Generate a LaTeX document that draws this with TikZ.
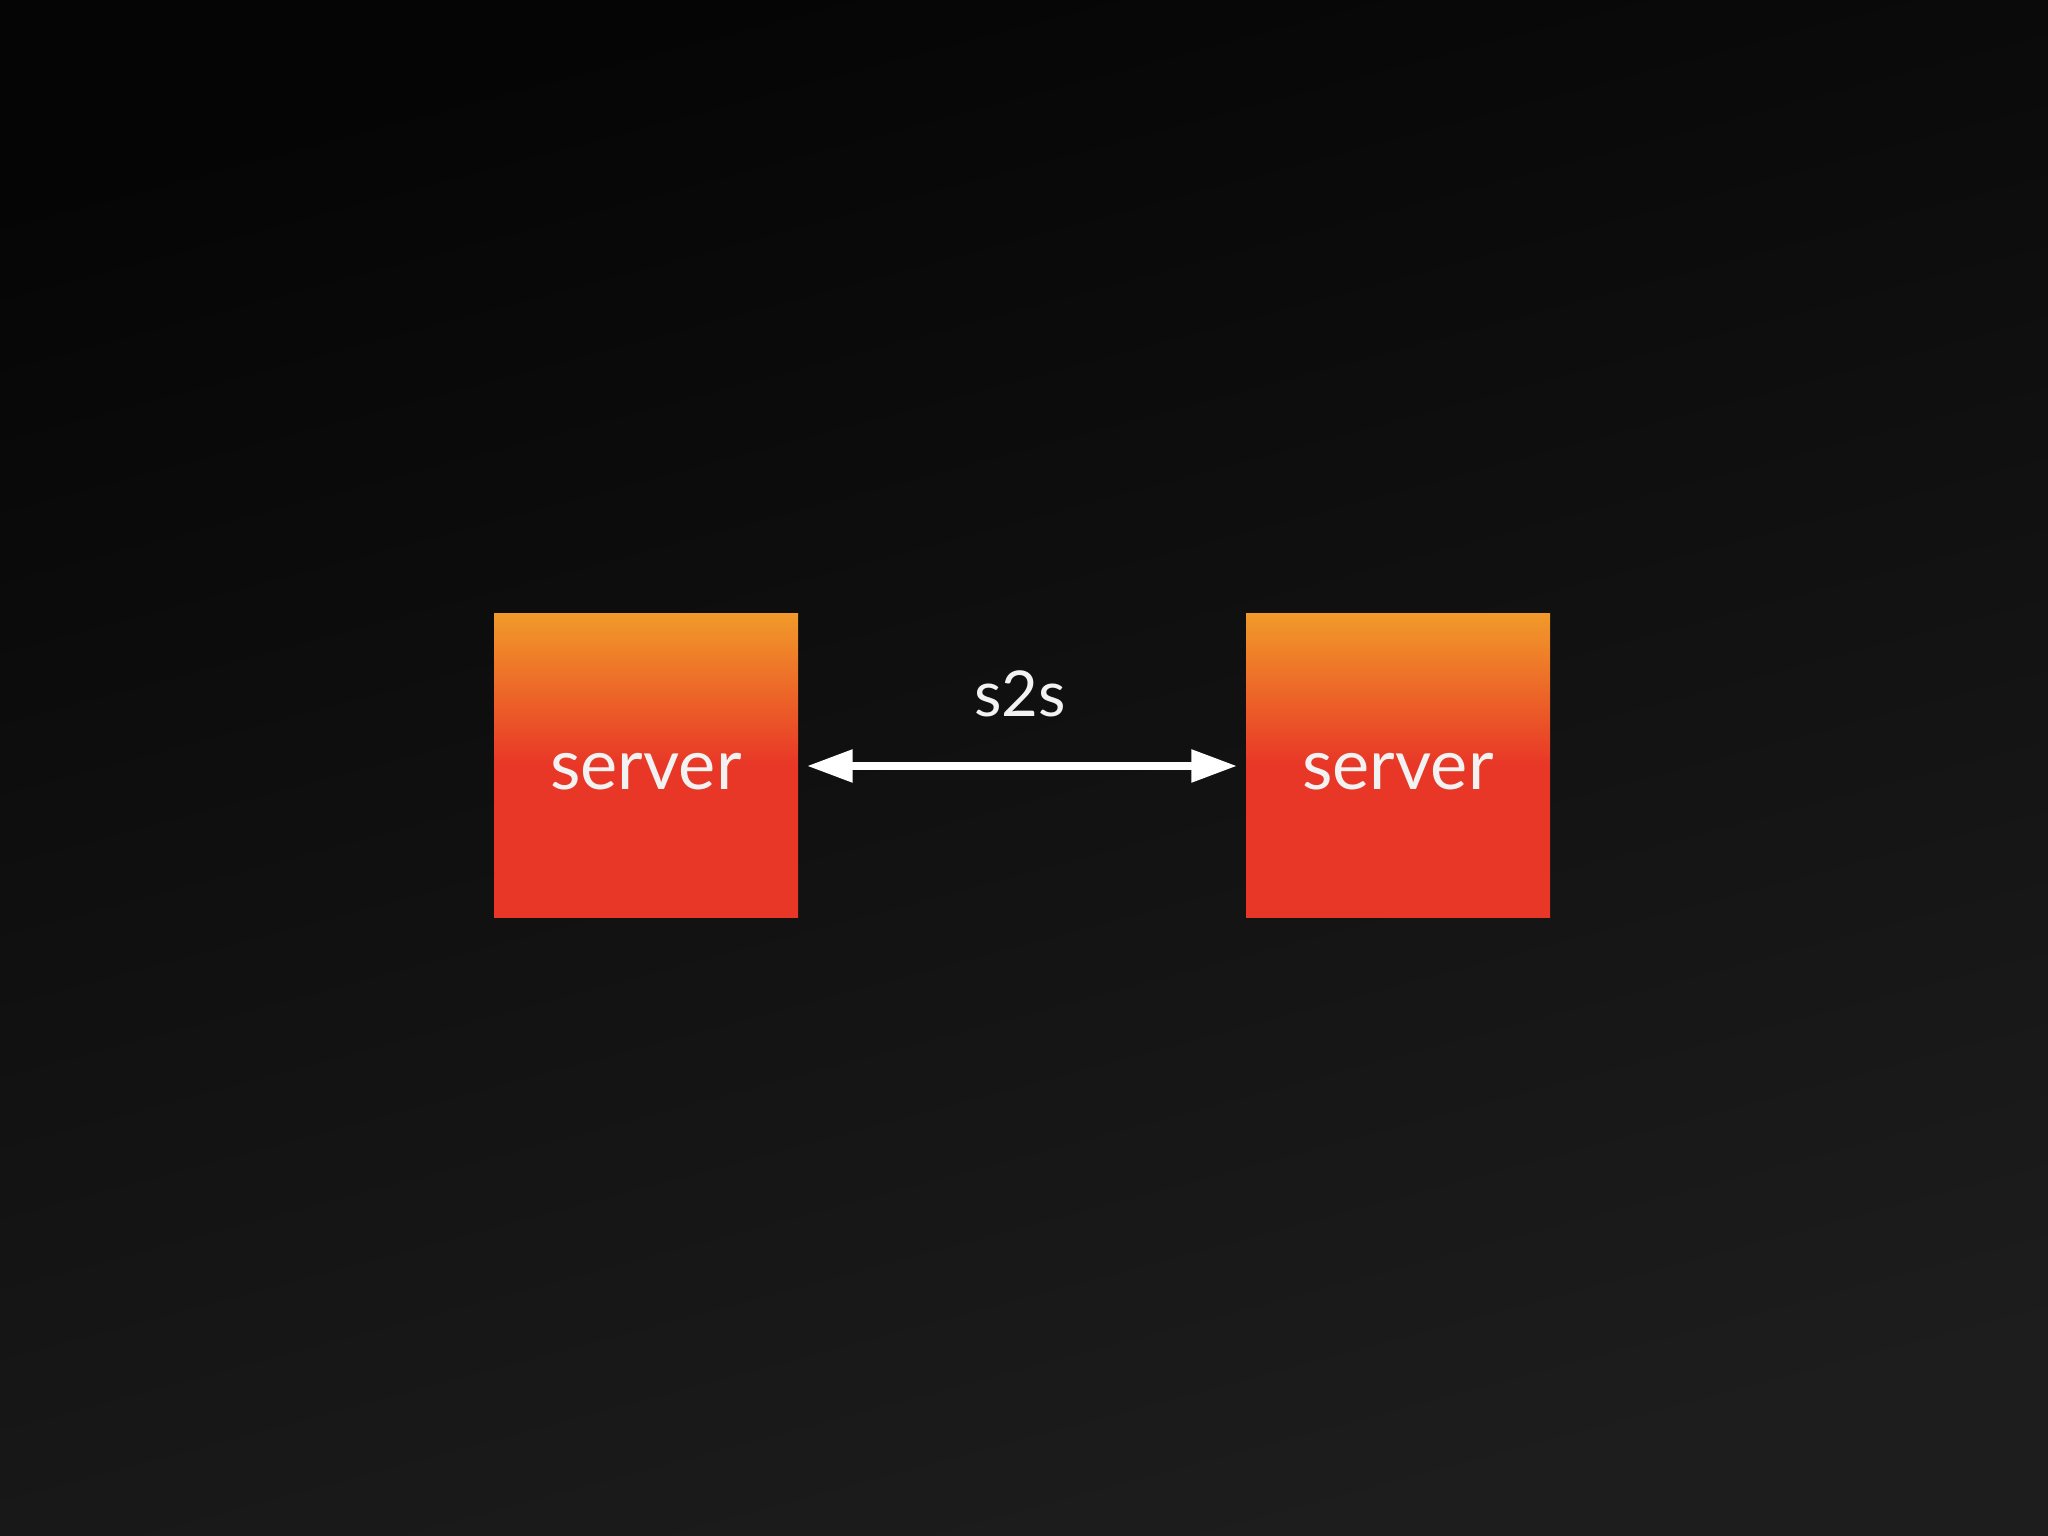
\documentclass[tikz,border=0pt]{standalone}
\usepackage{fontspec}
\setmainfont{Lato}
\usetikzlibrary{arrows.meta}
\definecolor{bgtop}{HTML}{050505}
\definecolor{bgbot}{HTML}{1D1D1D}
\definecolor{boxtop}{HTML}{F19A2A}
\definecolor{boxred}{HTML}{E83627}
\definecolor{txt}{HTML}{F2F2F2}
\tikzset{
	server/.style={minimum size=3.04cm, inner sep=0pt, text height=0.47cm, text depth=0pt, top color=boxtop, bottom color=boxred, middle color=boxred, text=txt, font=\fontsize{20}{24}\selectfont},
	link/.style={line width=0.085cm, white, {Triangle[length=0.46cm, width=0.31cm]}-{Triangle[length=0.46cm, width=0.31cm]}, shorten <=0.08cm, shorten >=0.08cm}
}

\begin{document}
\begin{tikzpicture}
		%%%%% START %%%%%
		\shade[top color=bgtop, bottom color=bgbot, shading angle=15] (0, 0) rectangle (20.48, 15.36);
		
		\node[server] (srvl) at (6.46, 7.70) {server};
		\node[server] (srvr) at (13.98, 7.70) {server};
		
		\draw[link] (srvl.east) -- (srvr.west);
		\node[text=txt, font=\fontsize{18}{22}\selectfont] (lbl) at (10.20, 8.42) {s2s};
		%%%%% END %%%%%
	\end{tikzpicture}
\end{document}
